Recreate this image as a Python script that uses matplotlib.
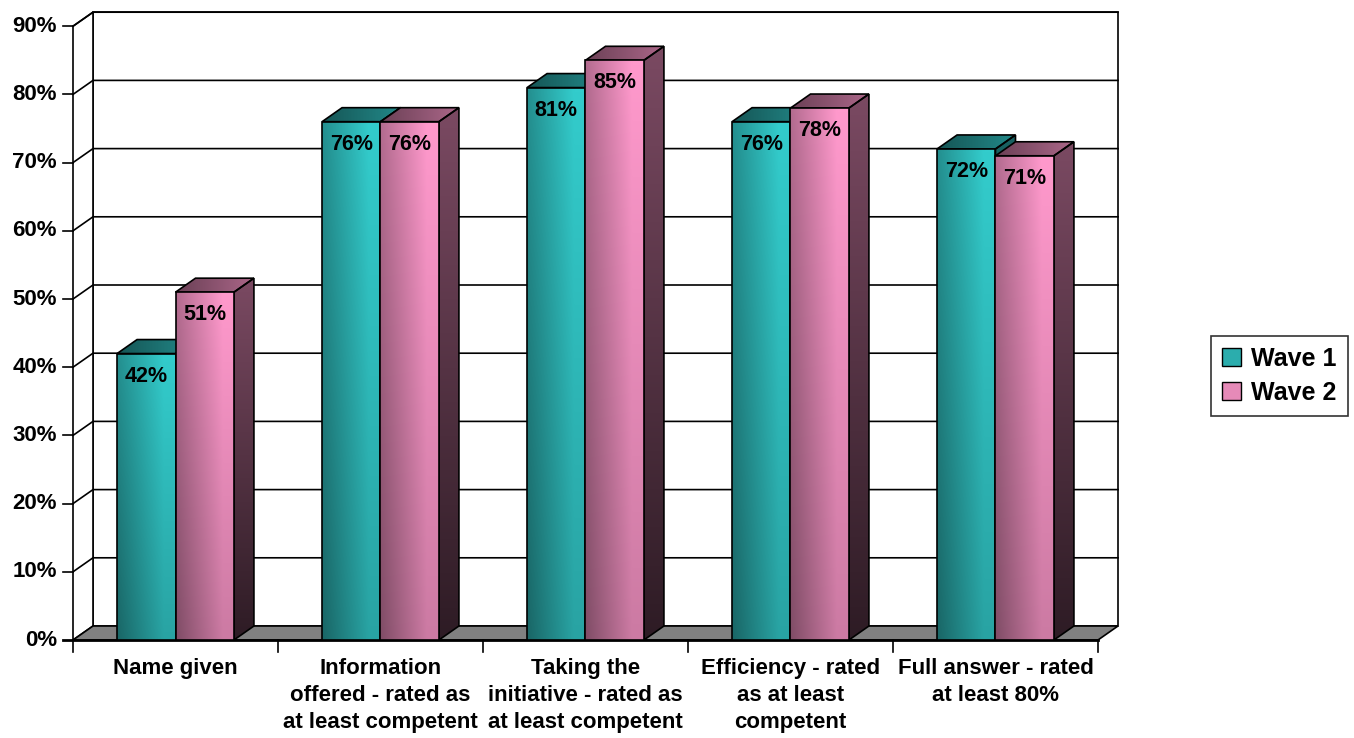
import numpy as np
import matplotlib
matplotlib.use('Agg')
import matplotlib.pyplot as plt
from matplotlib.patches import Polygon, Patch

plt.rcParams['font.family'] = ['Liberation Sans', 'DejaVu Sans']
plt.rcParams['font.weight'] = 'bold'

# Данные
categories = ['Name given',
              'Information\noffered - rated as\nat least competent',
              'Taking the\ninitiative - rated as\nat least competent',
              'Efficiency - rated\nas at least\ncompetent',
              'Full answer - rated\nat least 80%']
wave1 = [42, 76, 81, 76, 72]
wave2 = [51, 76, 85, 78, 71]
series_names = ['Wave 1', 'Wave 2']
yticks = list(range(0, 100, 10))

teal = np.array([51, 204, 204]) / 255
pink = np.array([255, 153, 204]) / 255

W, H = 1354, 738
fig = plt.figure(figsize=(W / 100, H / 100), dpi=100)
ax = fig.add_axes([0, 0, 1, 1])
# 205 px на категорию, 6.82 px на процент, начало в (73, 640)
ax.set_xlim(-73 / 205, (W - 73) / 205)
ax.set_ylim(-(H - 640) / 6.82, 640 / 6.82)
ax.axis('off')

dx, dy = 20 / 205, 14 / 6.82   # смещение глубины
ymax = 90
ncat = len(categories)
bw = 0.285


def poly(pts, fc='none', lw=1.2, z=1):
    p = Polygon(pts, closed=True, facecolor=fc, edgecolor='black', linewidth=lw, zorder=z)
    ax.add_patch(p)
    return p


def shaded(pts, base, kind, z):
    pts = np.array(pts)
    x0, x1 = pts[:, 0].min(), pts[:, 0].max()
    y0, y1 = pts[:, 1].min(), pts[:, 1].max()
    tx = np.linspace(0, 1, 60)[None, :]
    ty = np.linspace(0, 1, 60)[:, None]
    if kind == 'front':
        b = 0.5 + 0.3 * np.minimum(tx / 0.8, 1) + 0.2 * ty
    elif kind == 'top':
        b = 0.42 + 0.25 * tx + 0 * ty
    else:
        b = 0.18 + 0.3 * ty + 0 * tx
    img = np.clip(base[None, None, :] * b[:, :, None], 0, 1)
    p = poly(pts, fc='none', z=z + 0.1)
    im = ax.imshow(img, extent=(x0, x1, y0, y1), origin='lower', aspect='auto',
                   interpolation='bilinear', zorder=z)
    im.set_clip_path(p)


# стенки
poly([(dx, dy), (ncat + dx, dy), (ncat + dx, ymax + dy), (dx, ymax + dy)], fc='white', z=1)
poly([(0, 0), (dx, dy), (dx, ymax + dy), (0, ymax)], fc='white', z=1)
for v in yticks[1:]:
    ax.plot([0, dx, ncat + dx], [v, v + dy, v + dy], color='black', lw=1.2, zorder=1.5)
    ax.plot([-0.049, 0], [v, v], color='black', lw=1.2, zorder=1.5)
# пол
poly([(0, 0), (ncat, 0), (ncat + dx, dy), (dx, dy)], fc='#808080', z=2)
ax.plot([-0.049, ncat], [0, 0], color='black', lw=2, zorder=2.5)
for i in range(ncat + 1):
    ax.plot([i, i], [0, -1.8], color='black', lw=1.2, zorder=2.5)

for v in yticks:
    ax.text(-0.078, v, f'{v}%', ha='right', va='center', fontsize=16, fontweight='bold')

# столбцы
z = 3
for i in range(ncat):
    c = i + 0.5
    for j, (vals, col) in enumerate([(wave1, teal), (wave2, pink)]):
        v = vals[i]
        x0, x1 = c - bw + j * bw, c + j * bw
        shaded([(x1, 0), (x1 + dx, dy), (x1 + dx, v + dy), (x1, v)], col, 'side', z)
        shaded([(x0, v), (x1, v), (x1 + dx, v + dy), (x0 + dx, v + dy)], col, 'top', z)
        shaded([(x0, 0), (x1, 0), (x1, v), (x0, v)], col, 'front', z + 0.5)
        ax.text((x0 + x1) / 2, v - 3.3, f'{v}%', ha='center', va='center',
                fontsize=15.5, fontweight='bold', zorder=z + 1)
        z += 1

for i, lab in enumerate(categories):
    ax.text(i + 0.5, -2.7, lab, ha='center', va='top', fontsize=16,
            fontweight='bold', linespacing=1.36)

handles = [Patch(facecolor=teal * 0.85, edgecolor='black', label=series_names[0]),
           Patch(facecolor=pink * 0.9, edgecolor='black', label=series_names[1])]
leg = fig.legend(handles=handles, loc='center left', bbox_to_anchor=(1211 / W, 1 - 376 / H),
                 fontsize=18, frameon=True, fancybox=False, edgecolor='black',
                 handlelength=0.75, handleheight=0.75, handletextpad=0.4, borderpad=0.45,
                 labelspacing=0.4, borderaxespad=0)
leg.get_frame().set_linewidth(1.2)

fig.savefig('out.png', dpi=100)
